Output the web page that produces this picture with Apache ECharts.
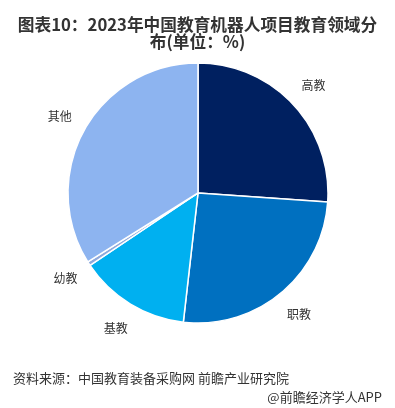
<!DOCTYPE html>
<html><head><meta charset="utf-8">
<script src="https://cdn.jsdelivr.net/npm/echarts@6/dist/echarts.min.js"></script>
<style>html,body{margin:0;padding:0;background:#fff}#c{width:395px;height:408px}</style>
</head><body><div id="c"></div>
<script>
const categories = ['高教', '职教', '基教', '幼教', '其他'];
const values = [26.1, 25.7, 13.8, 0.5, 33.9];
const colors = ['#002060', '#0070c0', '#00b0f0', '#8fa9dc', '#8db4f0'];
const titleLines = ['图表10：2023年中国教育机器人项目教育领域分', '布(单位：%)'];
const sourceText = '资料来源：中国教育装备采购网 前瞻产业研究院';
const brandText = '@前瞻经济学人APP';

const font = '"Noto Sans CJK SC", "Noto Sans", sans-serif';
const data = categories.map((c, i) => ({ name: c, value: values[i], itemStyle: { color: colors[i] } }));
const chart = echarts.init(document.getElementById('c'));
chart.setOption({
  animation: false,
  title: [
    { text: titleLines.join('\n'), left: 'center', top: 11,
      textStyle: { fontFamily: font, fontSize: 16.7, fontWeight: 'bold', color: '#333', lineHeight: 17 } },
    { text: sourceText, left: 8, top: 367,
      textStyle: { fontFamily: font, fontSize: 13, fontWeight: 'normal', color: '#333' } },
    { text: brandText, right: 8, top: 386,
      textStyle: { fontFamily: font, fontSize: 13, fontWeight: 'normal', color: '#333' } }
  ],
  series: [
    { type: 'pie', center: [198, 193], radius: [0, 130], startAngle: 90, clockwise: true,
      data: data, label: { show: false }, labelLine: { show: false },
      itemStyle: { borderColor: '#fff', borderWidth: 1.5 }, silent: true },
    { type: 'pie', center: [198, 193], radius: [130, 180], startAngle: 90, clockwise: true,
      data: data.map(d => ({ name: d.name, value: d.value, itemStyle: { color: 'rgba(0,0,0,0)' } })),
      label: { show: true, position: 'inside', formatter: '{b}', fontFamily: font, fontSize: 12, color: '#333' },
      labelLine: { show: false }, silent: true, z: 3 }
  ]
});
</script></body></html>
